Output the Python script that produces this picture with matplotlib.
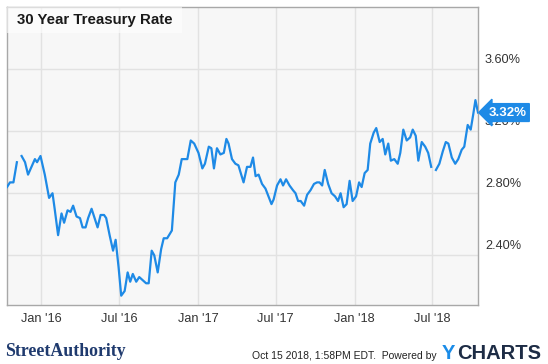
import numpy as np
import pandas as pd
import matplotlib
matplotlib.use("Agg")
import matplotlib.pyplot as plt
from matplotlib.transforms import blended_transform_factory, ScaledTranslation

plt.rcParams['font.family'] = ['Liberation Sans', 'DejaVu Sans']

# 30 year treasury rate (None = gap in the line)
dates = [
    "2015-10-14", "2015-10-21", "2015-10-29", "2015-11-06", "2015-11-11", "2015-11-17",
    "2015-11-25", "2015-12-02", "2015-12-10", "2015-12-18", "2015-12-23", "2015-12-31",
    "2016-01-10", "2016-01-20", "2016-01-28", "2016-02-02", "2016-02-10", "2016-02-18",
    "2016-02-24", "2016-03-03", "2016-03-10", "2016-03-16", "2016-03-24", "2016-04-01",
    "2016-04-07", "2016-04-14", "2016-04-20", "2016-04-28", "2016-05-05", "2016-05-12",
    "2016-05-19", "2016-05-27", "2016-06-01", "2016-06-09", "2016-06-17", "2016-06-23",
    "2016-06-30", "2016-07-06", "2016-07-14", "2016-07-21", "2016-07-27", "2016-08-02",
    "2016-08-10", "2016-08-17", "2016-08-25", "2016-09-02", "2016-09-08", "2016-09-15",
    "2016-09-21", "2016-09-29", "2016-10-07", "2016-10-13", "2016-10-21", "2016-11-01",
    "2016-11-09", "2016-11-17", "2016-11-24", "2016-12-07", "2016-12-15", "2016-12-23",
    "2017-01-02", "2017-01-11", "2017-01-17", "2017-01-26", "2017-02-01", "2017-02-07",
    "2017-02-14", "2017-02-22", "2017-03-02", "2017-03-08", "2017-03-13", "2017-03-21",
    "2017-03-29", "2017-04-05", "2017-04-17", "2017-04-25", "2017-05-03", "2017-05-09",
    "2017-05-15", "2017-05-22", "2017-05-30", "2017-06-07", "2017-06-14", "2017-06-21",
    "2017-06-26", "2017-07-04", "2017-07-12", "2017-07-18", "2017-07-25", "2017-08-02",
    "2017-08-10", "2017-08-16", "2017-08-22", "2017-08-28", "2017-09-05", "2017-09-12",
    "2017-09-20", "2017-09-28", "2017-10-05", "2017-10-11", "2017-10-17", "2017-10-23",
    "2017-10-31", "2017-11-08", "2017-11-16", "2017-11-23", "2017-11-29", "2017-12-06",
    "2017-12-13", "2017-12-20", "2017-12-27", "2018-01-04", "2018-01-11", "2018-01-17",
    "2018-01-24", "2018-01-31", "2018-02-06", "2018-02-14", "2018-02-20", "2018-02-28",
    "2018-03-07", "2018-03-13", "2018-03-20", "2018-03-26", "2018-04-03", "2018-04-11",
    "2018-04-17", "2018-04-24", "2018-05-02", "2018-05-10", "2018-05-16", "2018-05-23",
    "2018-05-29", "2018-06-06", "2018-06-14", "2018-06-21", "2018-06-28", "2018-07-03",
    "2018-07-09", "2018-07-17", "2018-07-25", "2018-08-01", "2018-08-07", "2018-08-15",
    "2018-08-23", "2018-08-30", "2018-09-07", "2018-09-13", "2018-09-21", "2018-09-28",
    "2018-10-04", "2018-10-09", "2018-10-15",
]
rates = [
    2.84, 2.87, 2.87, 3.00, None, 3.04,
    3.00, 2.92, 2.97, 3.02, 3.00, 3.04,
    2.92, 2.77, 2.80, 2.70, 2.53, 2.67,
    2.61, 2.69, 2.68, 2.72, 2.65, 2.64,
    2.58, 2.58, 2.64, 2.70, 2.64, 2.58,
    2.66, 2.66, 2.64, 2.53, 2.43, 2.50,
    2.32, 2.14, 2.17, 2.29, 2.23, 2.28,
    2.23, 2.26, 2.24, 2.22, 2.22, 2.43,
    2.40, 2.29, 2.44, 2.51, 2.51, 2.56,
    2.87, 2.92, 3.02, 3.02, 3.14, 3.12,
    3.06, 2.96, 2.99, 3.10, 3.09, 2.96,
    3.09, 3.05, 3.06, 3.15, 3.12, 3.02,
    2.99, 2.98, 2.87, 2.97, 2.97, 3.03,
    2.91, 2.92, 2.86, 2.83, 2.78, 2.73,
    2.76, 2.85, 2.89, 2.85, 2.89, 2.85,
    2.82, 2.80, 2.75, 2.75, 2.72, 2.79,
    2.82, 2.86, 2.87, 2.87, 2.85, 2.95,
    2.86, 2.80, 2.78, 2.75, 2.80, 2.71,
    2.73, 2.88, 2.75, 2.78, 2.87, 2.84,
    2.93, 2.95, 3.12, 3.19, 3.22, 3.13,
    3.15, 3.05, 3.12, 3.01, 3.02, 2.99,
    3.06, 3.21, 3.14, 3.16, 3.21, 3.17,
    3.01, 3.13, 3.10, 3.06, 2.97, None,
    2.95, 2.99, 3.07, 3.13, 3.12, 3.03,
    2.99, 3.02, 3.08, 3.10, 3.24, 3.21,
    3.31, 3.40, 3.32,
]

y_ticks = [2.40, 2.80, 3.20, 3.60]
x_ticks = ["2016-01-01", "2016-07-01", "2017-01-01", "2017-07-01", "2018-01-01", "2018-07-01"]
x_labels = ["Jan '16", "Jul '16", "Jan '17", "Jul '17", "Jan '18", "Jul '18"]

LINE_BLUE = "#1e8ae6"
W, H = 548, 364

x = pd.to_datetime(dates)
y = np.array([np.nan if v is None else v for v in rates], dtype=float)

fig = plt.figure(figsize=(W / 100, H / 100), dpi=100)
ax = fig.add_axes([7 / W, 1 - 305 / H, 471 / W, 298 / H])
ax.set_facecolor("#f7f7f7")

ax.plot(x, y, color=LINE_BLUE, lw=1.6, zorder=3)

ax.set_xlim(pd.Timestamp("2015-10-14"), pd.Timestamp("2018-10-15"))
ax.set_ylim(2.08, 4.0)

ax.set_xticks(pd.to_datetime(x_ticks))
ax.set_xticklabels(x_labels)
ax.set_yticks(y_ticks)
ax.set_yticklabels([f"{v:.2f}%" for v in y_ticks])
ax.yaxis.tick_right()
ax.tick_params(axis="both", length=0, labelsize=9.2, colors="#333333")
ax.tick_params(axis="y", pad=5)
ax.tick_params(axis="x", pad=6)

# y labels sit just above their gridline
lift = ScaledTranslation(0, 6 / 100, fig.dpi_scale_trans)
for lab in ax.get_yticklabels():
    lab.set_va("baseline")
    lab.set_transform(lab.get_transform() + lift)

ax.grid(True, color="#e2e2e2", lw=1)
ax.set_axisbelow(True)
for s in ax.spines.values():
    s.set_color("#a8a8a8")
    s.set_linewidth(1)

# title box
ax.add_patch(plt.Rectangle((0, 0.913), 0.372, 0.087, transform=ax.transAxes,
                           facecolor="white", alpha=0.6, edgecolor="none", zorder=4))
ax.text(0.021, 0.957, "30 Year Treasury Rate", transform=ax.transAxes,
        fontsize=10.8, fontweight="bold", color="#1a1a1a", va="center", ha="left", zorder=5)

# last value tag
last = y[-1]
tr = blended_transform_factory(ax.transAxes, ax.transData)
ax.text(1.022, last, f"{last:.2f}%", transform=tr, fontsize=9.5, fontweight="bold",
        color="white", va="center", ha="left", clip_on=False, zorder=6,
        bbox=dict(boxstyle="larrow,pad=0.22", fc=LINE_BLUE, ec=LINE_BLUE))

# footer
fig.text(5 / W, 1 - 356 / H, "StreetAuthority", family="Liberation Serif",
         fontsize=12.8, fontweight="bold", color="#1f3a6e", ha="left", va="baseline")
fig.text(437 / W, 1 - 359 / H, "Oct 15 2018, 1:58PM EDT.  Powered by",
         fontsize=7.5, color="#222222", ha="right", va="baseline")
fig.text(442 / W, 1 - 359 / H, "Y", fontsize=14.5, fontweight="bold",
         color="#1a8ce8", ha="left", va="baseline")
fig.text(457 / W, 1 - 359 / H, "CHARTS", fontsize=14.5, fontweight="bold",
         color="#1d2c45", ha="left", va="baseline")

fig.savefig("out.png", dpi=100)
